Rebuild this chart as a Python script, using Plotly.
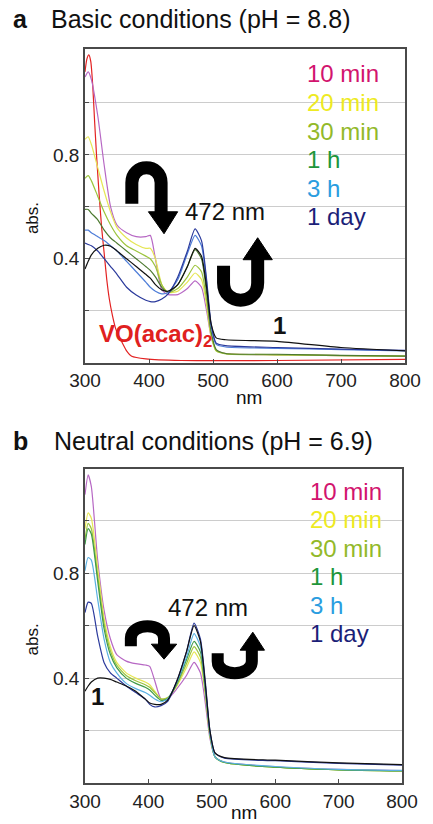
import plotly.graph_objects as go

# ---------------- data ----------------
wl = [300, 305, 310, 320, 330, 340, 350, 365, 380, 395, 402, 410, 420, 430, 445,
      460, 472, 482, 490, 497, 505, 520, 600, 700, 800]

# panel a : basic conditions (pH 8.8)
a_10min = [1.10, 1.12, 1.09, 0.95, 0.76, 0.60, 0.53, 0.50, 0.485, 0.485, 0.49, 0.40, 0.28, 0.262, 0.262,
           0.285, 0.315, 0.29, 0.20, 0.10, 0.048, 0.035, 0.030, 0.027, 0.025]
a_20min = [0.86, 0.87, 0.84, 0.75, 0.66, 0.58, 0.52, 0.48, 0.455, 0.44, 0.44, 0.40, 0.30, 0.27, 0.275,
           0.31, 0.345, 0.32, 0.22, 0.10, 0.045, 0.035, 0.030, 0.027, 0.025]
a_30min = [0.71, 0.72, 0.70, 0.64, 0.58, 0.53, 0.49, 0.45, 0.43, 0.41, 0.40, 0.37, 0.30, 0.27, 0.285,
           0.33, 0.375, 0.35, 0.24, 0.11, 0.045, 0.033, 0.030, 0.027, 0.025]
a_1h = [0.59, 0.59, 0.575, 0.55, 0.51, 0.48, 0.46, 0.43, 0.40, 0.37, 0.355, 0.33, 0.29, 0.27, 0.30,
        0.37, 0.435, 0.40, 0.27, 0.12, 0.05, 0.035, 0.032, 0.028, 0.025]
a_3h = [0.51, 0.51, 0.50, 0.485, 0.47, 0.45, 0.43, 0.39, 0.35, 0.31, 0.29, 0.275, 0.265, 0.27, 0.32,
        0.42, 0.49, 0.45, 0.31, 0.14, 0.07, 0.060, 0.055, 0.050, 0.045]
a_1day = [0.46, 0.455, 0.45, 0.43, 0.40, 0.37, 0.34, 0.29, 0.26, 0.24, 0.235, 0.235, 0.245, 0.265, 0.33,
          0.43, 0.515, 0.47, 0.32, 0.15, 0.075, 0.065, 0.058, 0.052, 0.047]
a_cmpd1 = [0.36, 0.39, 0.415, 0.44, 0.452, 0.448, 0.43, 0.40, 0.37, 0.34, 0.325, 0.30, 0.28, 0.275, 0.30,
           0.37, 0.44, 0.41, 0.29, 0.15, 0.095, 0.088, 0.082, 0.058, 0.045]

wl_voacac = [300, 303, 306, 309, 312, 315, 318, 322, 326, 330, 334, 338, 343, 348, 353, 358,
             365, 373, 395, 450, 600, 800]
a_voacac = [1.12, 1.17, 1.185, 1.16, 1.07, 0.93, 0.80, 0.65, 0.52, 0.42, 0.32, 0.245, 0.18, 0.13, 0.10, 0.077,
            0.045, 0.024, 0.014, 0.008, 0.008, 0.012]

# panel b : neutral conditions (pH 6.9)
b_10min = [1.10, 1.175, 1.13, 0.85, 0.66, 0.55, 0.49, 0.465, 0.455, 0.45, 0.445, 0.39, 0.32, 0.32, 0.36,
           0.41, 0.46, 0.42, 0.30, 0.17, 0.10, 0.080, 0.062, 0.052, 0.047]
b_20min = [0.97, 1.03, 1.01, 0.82, 0.63, 0.52, 0.46, 0.42, 0.40, 0.385, 0.375, 0.35, 0.32, 0.325, 0.37,
           0.44, 0.50, 0.46, 0.33, 0.18, 0.10, 0.078, 0.060, 0.050, 0.046]
b_30min = [0.93, 0.99, 0.97, 0.79, 0.61, 0.505, 0.45, 0.41, 0.39, 0.375, 0.365, 0.345, 0.32, 0.325, 0.375,
           0.455, 0.52, 0.48, 0.34, 0.18, 0.10, 0.078, 0.060, 0.050, 0.046]
b_1h = [0.91, 0.97, 0.95, 0.77, 0.59, 0.49, 0.44, 0.40, 0.38, 0.365, 0.355, 0.335, 0.315, 0.32, 0.38,
        0.47, 0.54, 0.50, 0.35, 0.19, 0.10, 0.078, 0.060, 0.050, 0.046]
b_3h = [0.81, 0.86, 0.85, 0.70, 0.55, 0.46, 0.42, 0.38, 0.36, 0.345, 0.335, 0.32, 0.31, 0.32, 0.385,
        0.48, 0.57, 0.52, 0.36, 0.19, 0.10, 0.080, 0.063, 0.052, 0.048]
b_1day = [0.65, 0.69, 0.685, 0.56, 0.46, 0.42, 0.40, 0.37, 0.345, 0.32, 0.30, 0.29, 0.295, 0.31, 0.39,
          0.50, 0.61, 0.55, 0.38, 0.20, 0.115, 0.095, 0.085, 0.075, 0.068]
b_cmpd1 = [0.35, 0.37, 0.385, 0.40, 0.40, 0.395, 0.385, 0.37, 0.35, 0.32, 0.305, 0.30, 0.30, 0.315, 0.39,
           0.50, 0.60, 0.54, 0.37, 0.20, 0.115, 0.097, 0.087, 0.077, 0.070]

labels = ["10 min", "20 min", "30 min", "1 h", "3 h", "1 day"]
label_colors = ["#d2146e", "#eeea22", "#93b92a", "#1e963a", "#2a9de0", "#1c1f78"]
line_colors_a = ["#b768c4", "#e6e655", "#9cc43c", "#4d7a30", "#4f7ed8", "#2b3a9c"]
line_colors_b = ["#b768c4", "#e6e655", "#9cc43c", "#3f9a48", "#5ab0e2", "#2b3a9c"]

xticks = [300, 400, 500, 600, 700, 800]
yticks = [0.2, 0.4, 0.6, 0.8, 1.0]
yticktext = ["", "0.4", "", "0.8", ""]

# ---------------- layout helpers ----------------
W, H = 433, 824
ML, MR, MT, MB = 85, 20, 49, 40
PW, PH = W - ML - MR, H - MT - MB


def px(x):
    return (x - ML) / PW


def py(y):
    return (H - MB - y) / PH


def path(cmds):
    out = []
    for c in cmds:
        if isinstance(c, str):
            out.append(c)
        else:
            out.append(f"{px(c[0]):.5f},{py(c[1]):.5f}")
    return " ".join(out)


fig = go.Figure()

series_a = [a_10min, a_20min, a_30min, a_1h, a_3h, a_1day]
series_b = [b_10min, b_20min, b_30min, b_1h, b_3h, b_1day]

fig.add_trace(go.Scatter(x=wl_voacac, y=a_voacac, mode="lines", xaxis="x", yaxis="y",
                         line=dict(color="#e32222", width=1.2, shape="spline", smoothing=0.6),
                         showlegend=False))
for s, c in zip(series_a, line_colors_a):
    fig.add_trace(go.Scatter(x=wl, y=s, mode="lines", xaxis="x", yaxis="y",
                             line=dict(color=c, width=1.2, shape="spline", smoothing=0.6),
                             showlegend=False))
fig.add_trace(go.Scatter(x=wl, y=a_cmpd1, mode="lines", xaxis="x", yaxis="y",
                         line=dict(color="#111111", width=1.2, shape="spline", smoothing=0.6),
                         showlegend=False))

for s, c in zip(series_b, line_colors_b):
    fig.add_trace(go.Scatter(x=wl, y=s, mode="lines", xaxis="x2", yaxis="y2",
                             line=dict(color=c, width=1.2, shape="spline", smoothing=0.6),
                             showlegend=False))
fig.add_trace(go.Scatter(x=wl, y=b_cmpd1, mode="lines", xaxis="x2", yaxis="y2",
                         line=dict(color="#111111", width=1.2, shape="spline", smoothing=0.6),
                         showlegend=False))

font_family = "Liberation Sans, Arial, sans-serif"
axis_common = dict(showline=True, linecolor="#4a4a4a", linewidth=1.5, mirror=True,
                   ticks="inside", ticklen=4, tickcolor="#4a4a4a", zeroline=False,
                   tickfont=dict(size=19, color="#222"))

fig.update_layout(
    width=W, height=H,
    margin=dict(l=ML, r=MR, t=MT, b=MB),
    paper_bgcolor="white", plot_bgcolor="white",
    font=dict(family=font_family, color="#222"),
    xaxis=dict(domain=[0, 1], range=[300, 800], tickvals=xticks, anchor="y",
               showgrid=False, **axis_common),
    yaxis=dict(domain=[py(363), 1], range=[0, 1.208], tickvals=yticks, ticktext=yticktext,
               anchor="x", showgrid=True, gridcolor="#cccccc", gridwidth=1, **axis_common),
    xaxis2=dict(domain=[0, px(410)], range=[300, 800], tickvals=xticks, anchor="y2",
                showgrid=False, **axis_common),
    yaxis2=dict(domain=[0, py(470)], range=[0, 1.196], tickvals=yticks, ticktext=yticktext,
                anchor="x2", showgrid=True, gridcolor="#cccccc", gridwidth=1, **axis_common),
)

ann = []


def text(x, y, s, size, color="#111", bold=False, xanchor="center", angle=0):
    if bold:
        s = f"<b>{s}</b>"
    ann.append(dict(x=px(x), y=py(y), xref="paper", yref="paper", text=s, showarrow=False,
                    xanchor=xanchor, yanchor="middle", textangle=angle,
                    font=dict(size=size, color=color, family=font_family)))


# titles
text(9, 19, "a", 25, bold=True, xanchor="left")
text(48, 19, "Basic conditions (pH = 8.8)", 25, xanchor="left")
text(9, 442, "b", 25, bold=True, xanchor="left")
text(51, 442, "Neutral conditions (pH = 6.9)", 25, xanchor="left")

# axis titles
text(253, 398, "nm", 19)
text(248, 814, "nm", 19)
text(31, 218, "abs.", 17, angle=-90)
text(31, 640, "abs.", 17, angle=-90)

# legends as coloured text
for i, (lab, col) in enumerate(zip(labels, label_colors)):
    text(311, 74 + i * 28.6, lab, 24, color=col, xanchor="left")
    text(314, 492 + i * 28.5, lab, 24, color=col, xanchor="left")

# labels on curves
text(229, 212, "472 nm", 24)
text(211, 608, "472 nm", 24)
text(284, 326, "1", 24, bold=True)
text(98, 697, "1", 24, bold=True)
text(97, 336, "VO(acac)<sub>2</sub>", 24, color="#e02020", bold=True, xanchor="left")

fig.update_layout(annotations=ann)

# curved arrows (decorations)
shapes = []


def stroke(cmds, w):
    shapes.append(dict(type="path", xref="paper", yref="paper", path=path(cmds),
                       line=dict(color="black", width=w), fillcolor="rgba(0,0,0,0)"))


def head(cmds):
    shapes.append(dict(type="path", xref="paper", yref="paper", path=path(cmds),
                       line=dict(color="black", width=1), fillcolor="black"))


# panel a
stroke(["M", (133, 204), "L", (133, 183), "C", (133, 163), (163, 163), (163, 183), "L", (163, 214)], 13)
head(["M", (150, 212), "L", (180, 212), "L", (166, 234), "Z"])
stroke(["M", (227, 266), "L", (227, 283), "C", (227, 306.3), (262, 306.3), (262, 283), "L", (262, 258)], 13)
head(["M", (247, 260), "L", (277, 260), "L", (262, 238), "Z"])
# panel b
stroke(["M", (132, 647), "L", (132, 639), "C", (132, 623), (166, 623), (166, 639), "L", (166, 647)], 12)
head(["M", (153, 645), "L", (179, 645), "L", (166, 660), "Z"])
stroke(["M", (221, 654), "L", (221, 662), "C", (221, 678), (256, 678), (256, 662), "L", (256, 650)], 12)
head(["M", (244, 651), "L", (269, 651), "L", (257, 633), "Z"])

fig.update_layout(shapes=shapes)

fig.write_html("out.html")
